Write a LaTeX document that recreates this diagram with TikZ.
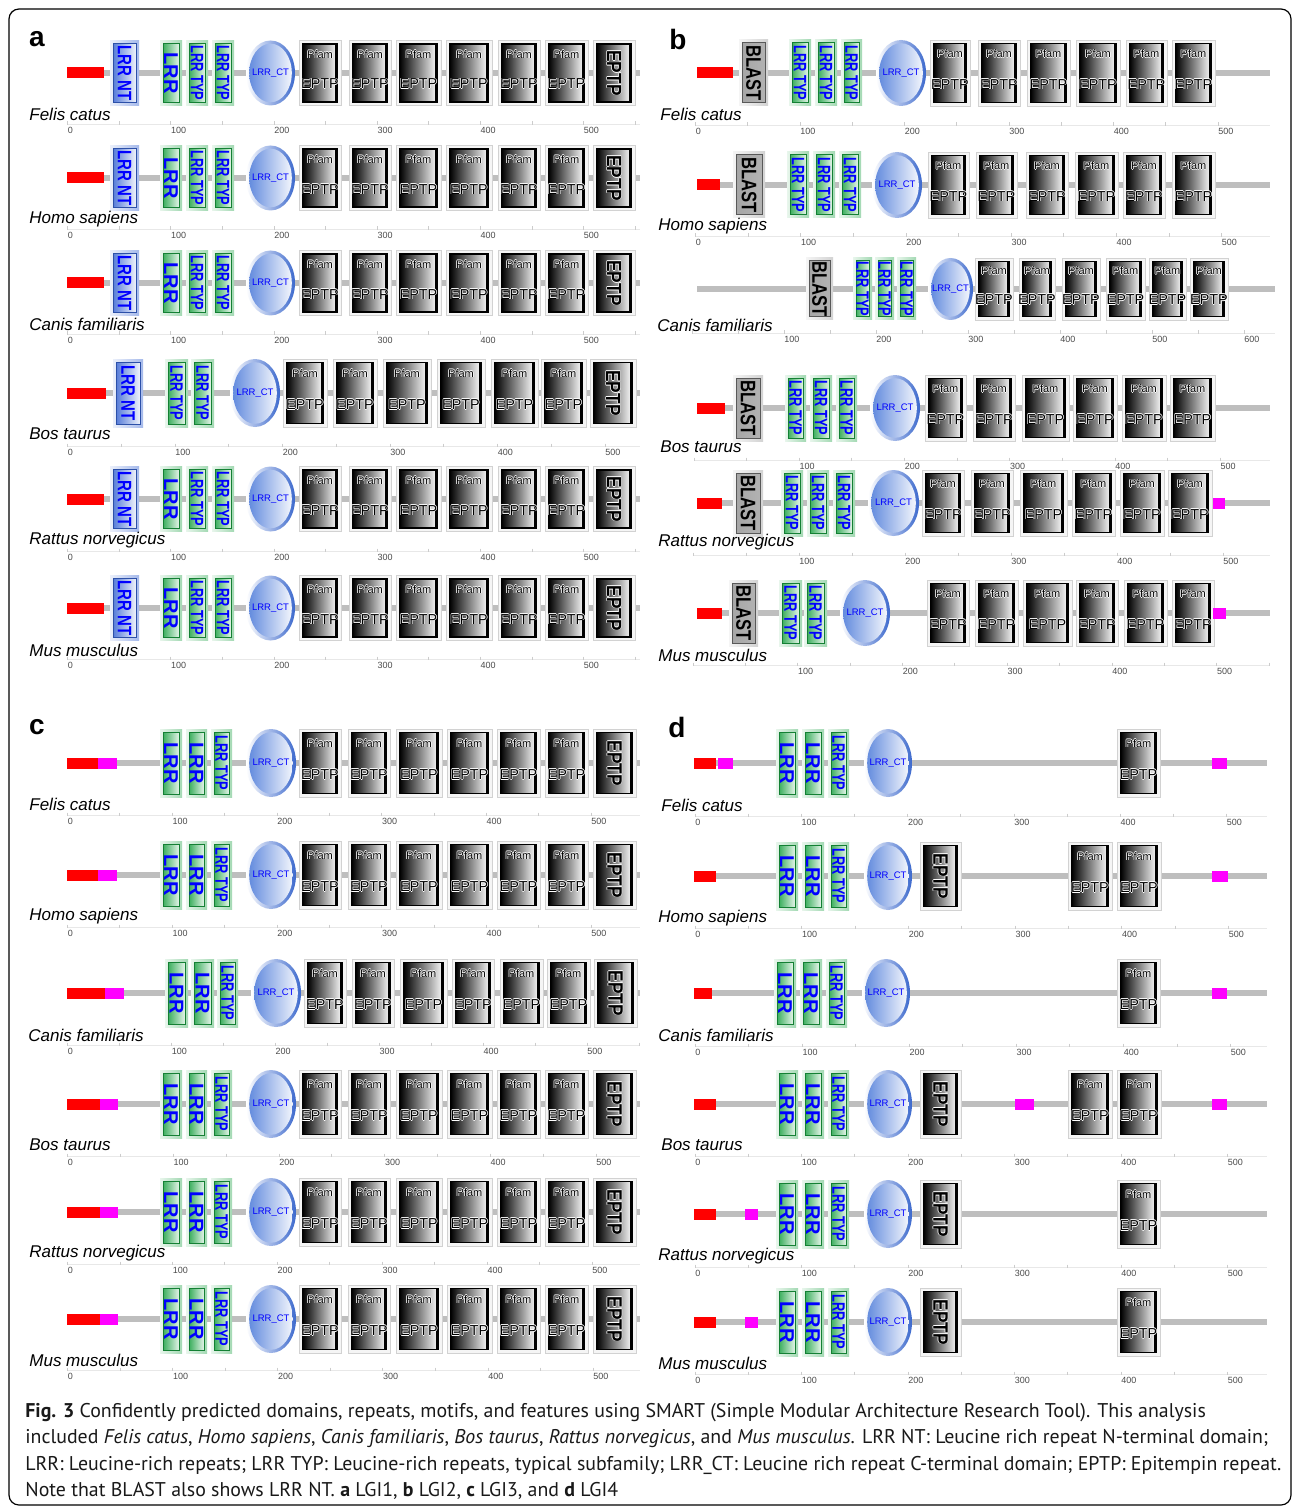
\documentclass[tikz,border=0pt]{standalone}
\usepackage{fontspec}
\setmainfont{Liberation Sans}
\newfontfamily\capfont{PT Sans}
\definecolor{lrrg}{RGB}{25,160,65}
\definecolor{ntb}{RGB}{55,100,210}
\definecolor{ctd}{RGB}{60,105,205}
\definecolor{ctm}{RGB}{100,140,222}
\definecolor{bbg}{RGB}{190,190,190}
\definecolor{tblue}{RGB}{0,0,255}
\definecolor{magb}{RGB}{255,0,255}
\definecolor{redb}{RGB}{255,0,0}
\newcounter{nd}
\newcommand\dHalo[1]{\leavevmode\rlap{\kern-.35pt\textcolor{white}{#1}}\rlap{\kern.35pt\textcolor{white}{#1}}\rlap{\raisebox{.35pt}{\textcolor{white}{#1}}}\rlap{\raisebox{-.35pt}{\textcolor{white}{#1}}}#1}
\tikzset{
  bbline/.style={bbg,line width=3pt},
  dlab/.style={inner sep=0pt,text=tblue},
  pft/.style={inner sep=0pt,font=\fontsize{5.5}{6}\selectfont},
  ept/.style={inner sep=0pt,font=\fontsize{7.2}{8}\selectfont},
  spt/.style={anchor=west,inner sep=0pt,font=\fontsize{8.5}{10}\selectfont\itshape},
  rlt/.style={anchor=west,inner sep=0pt,font=\fontsize{4.5}{5}\selectfont,text=black!70},
  plet/.style={inner sep=0pt,font=\fontsize{14}{14}\selectfont\bfseries},
  capl/.style={anchor=base west,inner sep=0pt,font=\capfont\fontsize{9.93}{11}\selectfont,text=black!90},
}
\newcommand\dBB[3]{\draw[bbline] (#1,#3) -- (#2,#3);}
\newcommand\dRB[3]{\fill[redb] (#1,#3-5.5) rectangle (#2,#3+5.5);}
\newcommand\dMG[3]{\fill[magb] (#1,#3-5.5) rectangle (#2,#3+5.5);}
\newcommand\dNT[3]{%
  \shade[left color=ntb!10,right color=ntb!45] (#1,#3-\hh) rectangle (#2,#3+\hh);
  \shade[left color=ntb!85,right color=ntb!8] (#1+3,#3-\hh+3) rectangle (#2-3,#3+\hh-3);
  \draw[ntb!80!black,line width=0.5pt] (#1+3,#3-\hh+3) rectangle (#2-3,#3+\hh-3);
  \stepcounter{nd}\node[dlab,rotate=-90,font=\fontsize{9.75}{10}\selectfont\bfseries] (n\arabic{nd}) at ({(#1+#2)/2},#3) {\scalebox{.77}[1]{LRR NT}};}
\newcommand\dLR[3]{%
  \shade[left color=lrrg!10,right color=lrrg!40] (#1,#3-\hh) rectangle (#2,#3+\hh);
  \shade[left color=lrrg!85,right color=lrrg!12] (#1+3,#3-\hh+3) rectangle (#2-3,#3+\hh-3);
  \draw[lrrg!80!black,line width=0.5pt] (#1+3,#3-\hh+3) rectangle (#2-3,#3+\hh-3);
  \stepcounter{nd}\node[dlab,rotate=-90,font=\fontsize{10}{10}\selectfont\bfseries] (n\arabic{nd}) at ({(#1+#2)/2},#3) {LRR};}
\newcommand\dLT[3]{%
  \shade[left color=lrrg!10,right color=lrrg!40] (#1,#3-\hh) rectangle (#2,#3+\hh);
  \shade[left color=lrrg!85,right color=lrrg!12] (#1+3,#3-\hh+3) rectangle (#2-3,#3+\hh-3);
  \draw[lrrg!80!black,line width=0.5pt] (#1+3,#3-\hh+3) rectangle (#2-3,#3+\hh-3);
  \stepcounter{nd}\node[dlab,rotate=-90,font=\fontsize{9}{10}\selectfont\bfseries] (n\arabic{nd}) at ({(#1+#2)/2},#3) {\scalebox{.71}[1]{LRR TYP}};}
\newcommand\dBL[3]{%
  \shade[left color=gray!8,right color=gray!35] (#1,#3-\hh) rectangle (#2,#3+\hh);
  \shade[left color=gray!70,middle color=gray!20,right color=gray!60] (#1+3,#3-\hh+3) rectangle (#2-3,#3+\hh-3);
  \draw[gray!70!black,line width=0.5pt] (#1+3,#3-\hh+3) rectangle (#2-3,#3+\hh-3);
  \stepcounter{nd}\node[inner sep=0pt,rotate=-90,font=\fontsize{10.5}{11}\selectfont\bfseries] (n\arabic{nd}) at ({(#1+#2)/2},#3) {\scalebox{.79}[1]{BLAST}};}
\newcommand\dCT[3]{%
  \pgfmathsetmacro\rx{(#2-#1)/4}\pgfmathsetmacro\ry{\hh/2}%
  \pgfmathsetmacro\rxi{\rx-1.6}\pgfmathsetmacro\ryi{\ry-1.6}%
  \shade[left color=white,right color=ctd] ({(#1+#2)/2},#3) ellipse [x radius=\rx pt,y radius=\ry pt];
  \shade[left color=ctm,right color=ctm!8] ({(#1+#2)/2},#3) ellipse [x radius=\rxi pt,y radius=\ryi pt];
  \stepcounter{nd}\node[dlab,font=\fontsize{4.75}{5}\selectfont] (n\arabic{nd}) at ({(#1+#2)/2},#3) {LRR\_CT};}
\newcommand\dPbox[3]{%
  \draw[gray!35,fill=gray!8,line width=0.4pt] (#1,#3-\hh) rectangle (#2,#3+\hh);
  \shade[left color=black,right color=white] (#1+3.5,#3-\hh+3.5) rectangle (#2-3.5,#3+\hh-3.5);
  \draw[black,line width=0.7pt] (#1+3.5,#3-\hh+3.5) rectangle (#2-3.5,#3+\hh-3.5);
  \draw[black,line width=1.2pt] (#2-4.7,#3-\hh+3.5) -- (#2-4.7,#3+\hh-3.5);}
\newcommand\dPF[3]{\dPbox{#1}{#2}{#3}%
  \stepcounter{nd}\node[pft] (n\arabic{nd}) at ({(#1+#2)/2},#3-0.58*\hh) {\dHalo{Pfam}};
  \stepcounter{nd}\node[ept] (n\arabic{nd}) at ({(#1+#2)/2},#3+0.34*\hh) {\dHalo{EPTP}};}
\newcommand\dEP[3]{\dPbox{#1}{#2}{#3}%
  \stepcounter{nd}\node[inner sep=0pt,rotate=-90,font=\fontsize{10.5}{11}\selectfont\bfseries] (n\arabic{nd}) at ({(#1+#2)/2},#3) {\scalebox{.82}[1]{\dHalo{EPTP}}};}
\newcommand\dSP[3]{\stepcounter{nd}\node[spt] (n\arabic{nd}) at (#1,#2) {#3};}
\newcommand\dRU[5]{%
  \draw[gray!18,line width=0.4pt] (#1,#3-6) -- (#4,#3-6);
  \foreach \k in {0,...,14}{\pgfmathsetmacro\xx{#1+\k*#2/2}\ifdim\xx pt<#4pt\relax\draw[gray!40,line width=0.4pt] (\xx,#3-8.5) -- (\xx,#3-5);\fi}
  \foreach \v in {#5}{\pgfmathsetmacro\xx{#1+\v/100*#2}\stepcounter{nd}\node[rlt] (n\arabic{nd}) at (\xx,#3) {\v};}}
% panel a standard row: y, species, species y, ruler y
\newcommand\rowA[4]{%
  \dBB{67}{640}{#1}\dRB{67}{104}{#1}\dNT{110}{139}{#1}
  \dLR{160}{182}{#1}\dLT{186}{208}{#1}\dLT{212}{234}{#1}\dCT{246}{295}{#1}
  \dPF{299}{341}{#1}\dPF{349}{391}{#1}\dPF{396}{441}{#1}\dPF{446}{492}{#1}\dPF{498}{540}{#1}\dPF{545}{588}{#1}\dEP{593}{635}{#1}
  \dSP{29}{#3}{#2}\dRU{67.5}{103.2}{#4}{640}{0,100,200,300,400,500}}
% panel c standard row: y, red end, magenta end, species, species y, ruler y, scale
\newcommand\rowC[7]{%
  \dBB{67}{640}{#1}\dRB{67}{#2}{#1}\dMG{#2}{#3}{#1}
  \dLR{160}{182}{#1}\dLR{186}{207}{#1}\dLT{211}{232}{#1}\dCT{246}{296}{#1}
  \dPF{299}{341}{#1}\dPF{348}{390}{#1}\dPF{396}{442}{#1}\dPF{447}{492}{#1}\dPF{497}{540}{#1}\dPF{545}{588}{#1}\dEP{593}{636}{#1}
  \dSP{29}{#5}{#4}\dRU{67.5}{#7}{#6}{640}{0,100,200,300,400,500}}
% panel d common start
\newcommand\rowD[1]{%
  \dBB{694}{1267}{#1}\dRB{694}{716}{#1}
  \dLR{776}{798}{#1}\dLR{802}{824}{#1}\dLT{828}{849}{#1}\dCT{864}{912}{#1}}
\begin{document}
\begin{tikzpicture}[x=0.5pt,y=-0.5pt]
\useasboundingbox (0,0) rectangle (1295,1508);
\fill[white] (0,0) rectangle (1295,1508);
\draw[black,line width=0.6pt,rounded corners=5pt] (9,9) rectangle (1291,1505);
% panel letters
\node[plet] (la) at (37,39) {a};
\node[plet] (lb) at (678,39) {b};
\node[plet] (lc) at (37,727) {c};
\node[plet] (ld) at (677,727) {d};
% ---------- panel a ----------
\def\hh{32.5}
\rowA{73}{Felis catus}{114}{130}
\rowA{178}{Homo sapiens}{219}{235}
\rowA{283}{Canis familiaris}{324}{340}
\def\hh{34}
\dBB{67}{640}{393}\dRB{67}{106}{393}\dNT{113}{143}{393}
\dLT{165}{188}{393}\dLT{191}{214}{393}\dCT{230}{280}{393}
\dPF{283}{327}{393}\dPF{333}{377}{393}\dPF{383}{431}{393}\dPF{437}{485}{393}\dPF{491}{538}{393}\dPF{541}{586}{393}\dEP{590}{636}{393}
\dSP{29}{434}{Bos taurus}\dRU{67.5}{107.5}{452}{640}{0,100,200,300,400,500}
\def\hh{32.5}
\rowA{499}{Rattus norvegicus}{540}{557}
\rowA{608}{Mus musculus}{650}{665}
% ---------- panel b ----------
\def\hh{33}
\dBB{697}{1270}{73}\dRB{697}{733}{73}\dBL{739}{768}{73}
\dLT{789}{811}{73}\dLT{815}{837}{73}\dLT{841}{862}{73}\dCT{876}{926}{73}
\dPF{930}{970}{73}\dPF{978}{1020}{73}\dPF{1027}{1070}{73}\dPF{1076}{1120}{73}\dPF{1126}{1167}{73}\dPF{1172}{1215}{73}
\dSP{660}{114}{Felis catus}\dRU{695.5}{104.5}{131}{1270}{0,100,200,300,400,500}
\dBB{697}{1270}{185}\dRB{697}{720}{185}\dBL{733}{765}{185}
\dLT{787}{809}{185}\dLT{813}{835}{185}\dLT{839}{861}{185}\dCT{872}{922}{185}
\dPF{928}{969}{185}\dPF{976}{1017}{185}\dPF{1026}{1068}{185}\dPF{1075}{1118}{185}\dPF{1123}{1165}{185}\dPF{1172}{1215}{185}
\dSP{658}{226}{Homo sapiens}\dRU{695.5}{105.2}{242}{1270}{0,100,200,300,400,500}
\def\hh{31}
\dBB{697}{1275}{289}\dBL{806}{833}{289}
\dLT{853}{872}{289}\dLT{875}{894}{289}\dLT{897}{916}{289}\dCT{928}{973}{289}
\dPF{975}{1013}{289}\dPF{1019}{1055}{289}\dPF{1062}{1100}{289}\dPF{1106}{1145}{289}\dPF{1149}{1186}{289}\dPF{1190}{1228}{289}
\dSP{657}{325}{Canis familiaris}\dRU{692}{92}{339}{1275}{100,200,300,400,500,600}
\def\hh{33}
\dBB{697}{1270}{408}\dRB{697}{725}{408}\dBL{733}{763}{408}
\dLT{785}{806}{408}\dLT{810}{832}{408}\dLT{836}{857}{408}\dCT{870}{920}{408}
\dPF{925}{966}{408}\dPF{973}{1015}{408}\dPF{1022}{1069}{408}\dPF{1073}{1117}{408}\dPF{1122}{1166}{408}\dPF{1170}{1215}{408}
\dSP{660}{447}{Bos taurus}\dRU{694}{105.25}{466}{1270}{100,200,300,400,500}
\dBB{697}{1270}{503}\dRB{697}{722}{503}\dBL{733}{763}{503}
\dLT{781}{803}{503}\dLT{807}{829}{503}\dLT{833}{855}{503}\dCT{868}{919}{503}
\dPF{922}{964}{503}\dPF{971}{1013}{503}\dPF{1020}{1067}{503}\dPF{1072}{1115}{503}\dPF{1120}{1164}{503}\dPF{1168}{1212}{503}\dMG{1213}{1225}{503}
\dSP{658}{542}{Rattus norvegicus}\dRU{693}{106}{561}{1270}{100,200,300,400,500}
\dBB{697}{1270}{613}\dRB{697}{722}{613}\dBL{729}{758}{613}
\dLT{779}{802}{613}\dLT{804}{827}{613}\dCT{840}{890}{613}
\dPF{927}{969}{613}\dPF{975}{1018}{613}\dPF{1023}{1072}{613}\dPF{1076}{1118}{613}\dPF{1124}{1167}{613}\dPF{1172}{1214}{613}\dMG{1213}{1226}{613}
\dSP{658}{655}{Mus musculus}\dRU{693}{104.75}{671}{1270}{100,200,300,400,500}
% ---------- panel c ----------
\def\hh{34}
\rowC{763}{98}{117}{Felis catus}{804}{821}{104.7}
\rowC{875}{98}{117}{Homo sapiens}{916}{933}{104.7}
\dBB{67}{640}{993}\dRB{67}{105}{993}\dMG{105}{124}{993}
\dLR{165}{188}{993}\dLR{191}{214}{993}\dLT{217}{238}{993}\dCT{251}{301}{993}
\dPF{304}{346}{993}\dPF{352}{394}{993}\dPF{400}{447}{993}\dPF{452}{494}{993}\dPF{500}{543}{993}\dPF{547}{590}{993}\dEP{594}{637}{993}
\dSP{28}{1035}{Canis familiaris}\dRU{67.5}{103.9}{1051}{640}{0,100,200,300,400,500}
\rowC{1104}{100}{118}{Bos taurus}{1145}{1162}{105.7}
\rowC{1212}{100}{118}{Rattus norvegicus}{1253}{1270}{104.9}
\rowC{1319}{100}{118}{Mus musculus}{1360}{1376}{105.1}
% ---------- panel d ----------
\rowD{763}\dMG{718}{733}{763}\dPF{1117}{1160}{763}\dMG{1212}{1227}{763}
\dSP{661}{805}{Felis catus}\dRU{695}{106.3}{822}{1267}{0,100,200,300,400,500}
\rowD{876}\dEP{920}{961}{876}\dPF{1068}{1112}{876}\dPF{1117}{1161}{876}\dMG{1212}{1228}{876}
\dSP{658}{918}{Homo sapiens}\dRU{695}{106.7}{934}{1267}{0,100,200,300,400,500}
\dBB{694}{1267}{993}\dRB{694}{712}{993}
\dLR{774}{796}{993}\dLR{800}{822}{993}\dLT{826}{847}{993}\dCT{862}{910}{993}
\dPF{1117}{1160}{993}\dMG{1212}{1227}{993}
\dSP{658}{1035}{Canis familiaris}\dRU{695}{107.1}{1052}{1267}{0,100,200,300,400,500}
\rowD{1104}\dEP{920}{961}{1104}\dMG{1015}{1034}{1104}\dPF{1068}{1112}{1104}\dPF{1117}{1161}{1104}\dMG{1212}{1227}{1104}
\dSP{661}{1145}{Bos taurus}\dRU{695}{106.5}{1162}{1267}{0,100,200,300,400,500}
\rowD{1214}\dMG{745}{758}{1214}\dEP{920}{961}{1214}\dPF{1117}{1160}{1214}
\dSP{658}{1256}{Rattus norvegicus}\dRU{695}{106.5}{1273}{1267}{0,100,200,300,400,500}
\rowD{1322}\dMG{745}{758}{1322}\dEP{920}{961}{1322}\dPF{1117}{1160}{1322}
\dSP{658}{1363}{Mus musculus}\dRU{695}{106.5}{1380}{1267}{0,100,200,300,400,500}
% ---------- caption ----------
\node[capl] (c1) at (25,1417) {{\bfseries Fig. 3} Confidently predicted domains, repeats, motifs, and features using SMART (Simple Modular Architecture Research Tool). This analysis};
\node[capl] (c2) at (25,1443.5) {included \textit{Felis catus}, \textit{Homo sapiens}, \textit{Canis familiaris}, \textit{Bos taurus}, \textit{Rattus norvegicus}, and \textit{Mus musculus}. LRR NT: Leucine rich repeat N-terminal domain;};
\node[capl] (c3) at (25,1470) {LRR: Leucine-rich repeats; LRR TYP: Leucine-rich repeats, typical subfamily; LRR\_CT: Leucine rich repeat C-terminal domain; EPTP: Epitempin repeat.};
\node[capl] (c4) at (25,1496.5) {Note that BLAST also shows LRR NT. {\bfseries a} LGI1, {\bfseries b} LGI2, {\bfseries c} LGI3, and {\bfseries d} LGI4};
\end{tikzpicture}
\end{document}
